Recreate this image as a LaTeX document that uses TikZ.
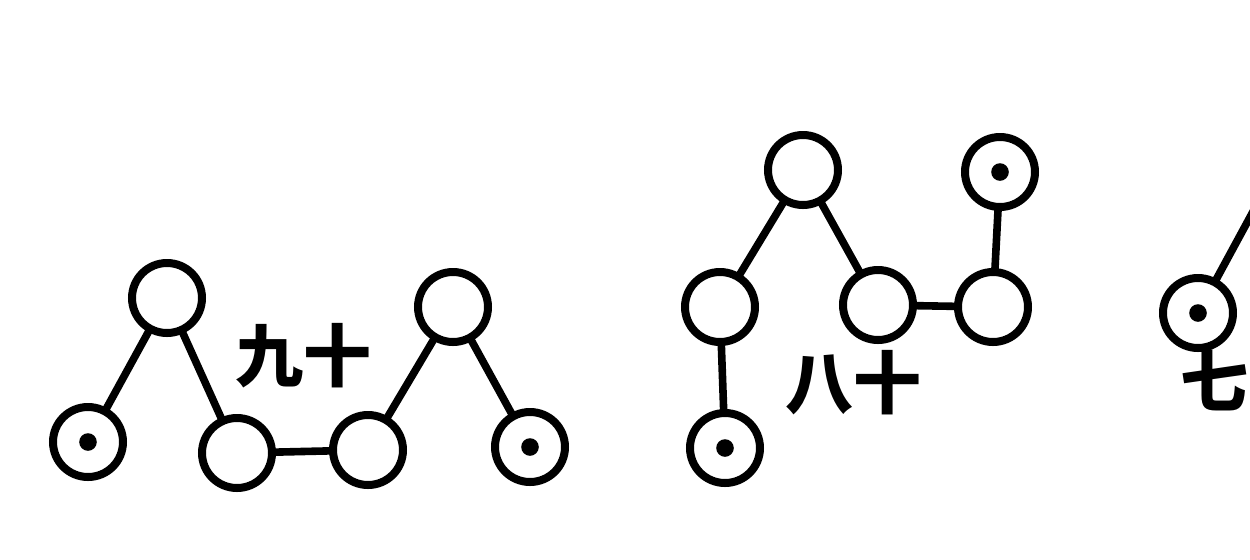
\documentclass[tikz,border=0pt]{standalone}
\usepackage{fontspec}
\newfontfamily\cjk{Noto Sans CJK SC}
\begin{document}
\begin{tikzpicture}[x=0.5pt,y=-0.5pt,
  ring/.style={circle,draw=black,line width=4pt,minimum size=35pt,inner sep=0pt,outer sep=0pt},
  dotring/.style={ring,path picture={\fill[black] (path picture bounding box.center) circle (4.4pt);}},
  link/.style={line width=3.8pt,draw=black},
  lbl/.style={font=\cjk\bfseries\fontsize{34}{34}\selectfont,inner sep=0pt,text=black}]
\fill[white] (0,0) rectangle (1250,559);
\useasboundingbox (0,0) rectangle (1250,559);
% group 90
\node[ring] (A) at (167,298) {};
\node[dotring] (B) at (88,442) {};
\node[ring] (C) at (237,453) {};
\node[ring] (D) at (453,307) {};
\node[ring] (E) at (368,450) {};
\node[dotring] (F) at (530,447) {};
\draw[link] (A) -- (B);
\draw[link] (A) -- (C);
\draw[link] (C) -- (E);
\draw[link] (D) -- (E);
\draw[link] (D) -- (F);
\node[lbl] (n9) at (303,356) {九十};
% group 80
\node[ring] (G) at (803,170) {};
\node[ring] (H) at (720,307) {};
\node[dotring] (I) at (725,448) {};
\node[ring] (J) at (878,305) {};
\node[ring] (K) at (993,307) {};
\node[dotring] (L) at (1000,172) {};
\draw[link] (G) -- (H);
\draw[link] (G) -- (J);
\draw[link] (H) -- (I);
\draw[link] (J) -- (K);
\draw[link] (K) -- (L);
\node[lbl] (n8) at (853,383) {八十};
% group 70 (cut off at right edge)
\node[dotring] (M) at (1198,313) {};
\coordinate (m1) at (1262,195);
\draw[link] (M) -- (m1);
\node[lbl] (n7) at (1214,380) {七};
\end{tikzpicture}
\end{document}
